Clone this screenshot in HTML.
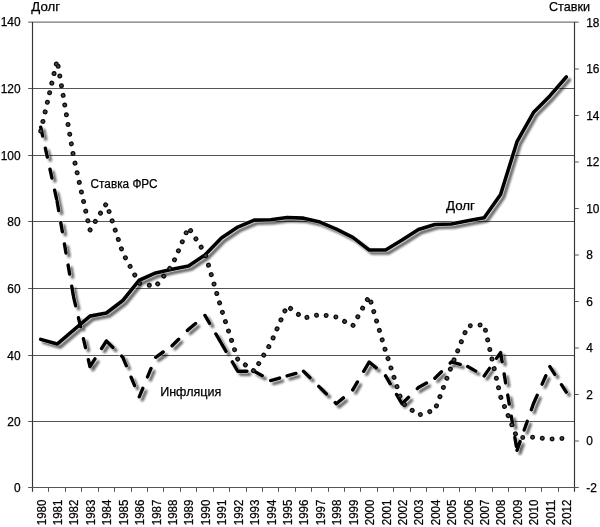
<!DOCTYPE html>
<html lang="ru"><head><meta charset="utf-8"><title>Долг и ставки</title>
<style>html,body{margin:0;padding:0;background:#fff}body{width:600px;height:527px;overflow:hidden}svg{display:block}text{font-family:"Liberation Sans",sans-serif;fill:#000;stroke:#000;stroke-width:0.25px}</style></head><body>
<svg width="600" height="527" viewBox="0 0 600 527">
<defs><filter id="sh" x="0" y="0" width="600" height="527" filterUnits="userSpaceOnUse" primitiveUnits="userSpaceOnUse"><feGaussianBlur in="SourceAlpha" stdDeviation="1.3"/><feOffset dx="2.5" dy="2.5"/></filter></defs>
<rect width="600" height="527" fill="#fff"/>
<g stroke="#555" stroke-width="1" fill="none"><line x1="28.20" y1="421.50" x2="574.50" y2="421.50"/><line x1="28.20" y1="355.50" x2="574.50" y2="355.50"/><line x1="28.20" y1="288.50" x2="574.50" y2="288.50"/><line x1="28.20" y1="221.50" x2="574.50" y2="221.50"/><line x1="28.20" y1="155.50" x2="574.50" y2="155.50"/><line x1="28.20" y1="88.50" x2="574.50" y2="88.50"/></g>
<line x1="28.20" y1="22.10" x2="578.80" y2="22.10" stroke="#777" stroke-width="1.3"/>
<g stroke="#555" stroke-width="1" fill="none"><line x1="32.50" y1="22.00" x2="32.50" y2="491.80" stroke="#333" stroke-width="1.15"/><line x1="574.50" y1="22.00" x2="574.50" y2="491.80" stroke="#333" stroke-width="1.15"/><line x1="28.20" y1="487.50" x2="574.50" y2="487.50"/><line x1="574.50" y1="441.00" x2="578.80" y2="441.00"/><line x1="574.50" y1="394.50" x2="578.80" y2="394.50"/><line x1="574.50" y1="348.00" x2="578.80" y2="348.00"/><line x1="574.50" y1="301.50" x2="578.80" y2="301.50"/><line x1="574.50" y1="255.00" x2="578.80" y2="255.00"/><line x1="574.50" y1="208.50" x2="578.80" y2="208.50"/><line x1="574.50" y1="162.00" x2="578.80" y2="162.00"/><line x1="574.50" y1="115.50" x2="578.80" y2="115.50"/><line x1="574.50" y1="69.00" x2="578.80" y2="69.00"/><line x1="574.50" y1="487.50" x2="578.80" y2="487.50"/><line x1="48.50" y1="487.50" x2="48.50" y2="491.80"/><line x1="65.50" y1="487.50" x2="65.50" y2="491.80"/><line x1="81.50" y1="487.50" x2="81.50" y2="491.80"/><line x1="98.50" y1="487.50" x2="98.50" y2="491.80"/><line x1="114.50" y1="487.50" x2="114.50" y2="491.80"/><line x1="131.50" y1="487.50" x2="131.50" y2="491.80"/><line x1="147.50" y1="487.50" x2="147.50" y2="491.80"/><line x1="163.50" y1="487.50" x2="163.50" y2="491.80"/><line x1="180.50" y1="487.50" x2="180.50" y2="491.80"/><line x1="196.50" y1="487.50" x2="196.50" y2="491.80"/><line x1="213.50" y1="487.50" x2="213.50" y2="491.80"/><line x1="229.50" y1="487.50" x2="229.50" y2="491.80"/><line x1="246.50" y1="487.50" x2="246.50" y2="491.80"/><line x1="262.50" y1="487.50" x2="262.50" y2="491.80"/><line x1="278.50" y1="487.50" x2="278.50" y2="491.80"/><line x1="295.50" y1="487.50" x2="295.50" y2="491.80"/><line x1="311.50" y1="487.50" x2="311.50" y2="491.80"/><line x1="328.50" y1="487.50" x2="328.50" y2="491.80"/><line x1="344.50" y1="487.50" x2="344.50" y2="491.80"/><line x1="360.50" y1="487.50" x2="360.50" y2="491.80"/><line x1="377.50" y1="487.50" x2="377.50" y2="491.80"/><line x1="393.50" y1="487.50" x2="393.50" y2="491.80"/><line x1="410.50" y1="487.50" x2="410.50" y2="491.80"/><line x1="426.50" y1="487.50" x2="426.50" y2="491.80"/><line x1="443.50" y1="487.50" x2="443.50" y2="491.80"/><line x1="459.50" y1="487.50" x2="459.50" y2="491.80"/><line x1="475.50" y1="487.50" x2="475.50" y2="491.80"/><line x1="492.50" y1="487.50" x2="492.50" y2="491.80"/><line x1="508.50" y1="487.50" x2="508.50" y2="491.80"/><line x1="525.50" y1="487.50" x2="525.50" y2="491.80"/><line x1="541.50" y1="487.50" x2="541.50" y2="491.80"/><line x1="558.50" y1="487.50" x2="558.50" y2="491.80"/></g>
<g><text x="20.6" y="491.80" text-anchor="end" font-size="11.90">0</text><text x="20.6" y="425.80" text-anchor="end" font-size="11.90">20</text><text x="20.6" y="359.80" text-anchor="end" font-size="11.90">40</text><text x="20.6" y="292.80" text-anchor="end" font-size="11.90">60</text><text x="20.6" y="225.80" text-anchor="end" font-size="11.90">80</text><text x="20.6" y="159.80" text-anchor="end" font-size="11.90">100</text><text x="20.6" y="92.80" text-anchor="end" font-size="11.90">120</text><text x="20.6" y="26.40" text-anchor="end" font-size="11.90">140</text><text x="586.2" y="491.80" font-size="11.90">-2</text><text x="586.2" y="445.30" font-size="11.90">0</text><text x="586.2" y="398.80" font-size="11.90">2</text><text x="586.2" y="352.30" font-size="11.90">4</text><text x="586.2" y="305.80" font-size="11.90">6</text><text x="586.2" y="259.30" font-size="11.90">8</text><text x="586.2" y="212.80" font-size="11.90">10</text><text x="586.2" y="166.30" font-size="11.90">12</text><text x="586.2" y="119.80" font-size="11.90">14</text><text x="586.2" y="73.30" font-size="11.90">16</text><text x="586.2" y="26.80" font-size="11.90">18</text><text transform="translate(45.61,525.2) rotate(-90)" font-size="11.90" textLength="25.6" lengthAdjust="spacingAndGlyphs">1980</text><text transform="translate(62.04,525.2) rotate(-90)" font-size="11.90" textLength="25.6" lengthAdjust="spacingAndGlyphs">1981</text><text transform="translate(78.46,525.2) rotate(-90)" font-size="11.90" textLength="25.6" lengthAdjust="spacingAndGlyphs">1982</text><text transform="translate(94.88,525.2) rotate(-90)" font-size="11.90" textLength="25.6" lengthAdjust="spacingAndGlyphs">1983</text><text transform="translate(111.31,525.2) rotate(-90)" font-size="11.90" textLength="25.6" lengthAdjust="spacingAndGlyphs">1984</text><text transform="translate(127.73,525.2) rotate(-90)" font-size="11.90" textLength="25.6" lengthAdjust="spacingAndGlyphs">1985</text><text transform="translate(144.16,525.2) rotate(-90)" font-size="11.90" textLength="25.6" lengthAdjust="spacingAndGlyphs">1986</text><text transform="translate(160.58,525.2) rotate(-90)" font-size="11.90" textLength="25.6" lengthAdjust="spacingAndGlyphs">1987</text><text transform="translate(177.01,525.2) rotate(-90)" font-size="11.90" textLength="25.6" lengthAdjust="spacingAndGlyphs">1988</text><text transform="translate(193.43,525.2) rotate(-90)" font-size="11.90" textLength="25.6" lengthAdjust="spacingAndGlyphs">1989</text><text transform="translate(209.85,525.2) rotate(-90)" font-size="11.90" textLength="25.6" lengthAdjust="spacingAndGlyphs">1990</text><text transform="translate(226.28,525.2) rotate(-90)" font-size="11.90" textLength="25.6" lengthAdjust="spacingAndGlyphs">1991</text><text transform="translate(242.70,525.2) rotate(-90)" font-size="11.90" textLength="25.6" lengthAdjust="spacingAndGlyphs">1992</text><text transform="translate(259.13,525.2) rotate(-90)" font-size="11.90" textLength="25.6" lengthAdjust="spacingAndGlyphs">1993</text><text transform="translate(275.55,525.2) rotate(-90)" font-size="11.90" textLength="25.6" lengthAdjust="spacingAndGlyphs">1994</text><text transform="translate(291.98,525.2) rotate(-90)" font-size="11.90" textLength="25.6" lengthAdjust="spacingAndGlyphs">1995</text><text transform="translate(308.40,525.2) rotate(-90)" font-size="11.90" textLength="25.6" lengthAdjust="spacingAndGlyphs">1996</text><text transform="translate(324.82,525.2) rotate(-90)" font-size="11.90" textLength="25.6" lengthAdjust="spacingAndGlyphs">1997</text><text transform="translate(341.25,525.2) rotate(-90)" font-size="11.90" textLength="25.6" lengthAdjust="spacingAndGlyphs">1998</text><text transform="translate(357.67,525.2) rotate(-90)" font-size="11.90" textLength="25.6" lengthAdjust="spacingAndGlyphs">1999</text><text transform="translate(374.10,525.2) rotate(-90)" font-size="11.90" textLength="25.6" lengthAdjust="spacingAndGlyphs">2000</text><text transform="translate(390.52,525.2) rotate(-90)" font-size="11.90" textLength="25.6" lengthAdjust="spacingAndGlyphs">2001</text><text transform="translate(406.95,525.2) rotate(-90)" font-size="11.90" textLength="25.6" lengthAdjust="spacingAndGlyphs">2002</text><text transform="translate(423.37,525.2) rotate(-90)" font-size="11.90" textLength="25.6" lengthAdjust="spacingAndGlyphs">2003</text><text transform="translate(439.79,525.2) rotate(-90)" font-size="11.90" textLength="25.6" lengthAdjust="spacingAndGlyphs">2004</text><text transform="translate(456.22,525.2) rotate(-90)" font-size="11.90" textLength="25.6" lengthAdjust="spacingAndGlyphs">2005</text><text transform="translate(472.64,525.2) rotate(-90)" font-size="11.90" textLength="25.6" lengthAdjust="spacingAndGlyphs">2006</text><text transform="translate(489.07,525.2) rotate(-90)" font-size="11.90" textLength="25.6" lengthAdjust="spacingAndGlyphs">2007</text><text transform="translate(505.49,525.2) rotate(-90)" font-size="11.90" textLength="25.6" lengthAdjust="spacingAndGlyphs">2008</text><text transform="translate(521.92,525.2) rotate(-90)" font-size="11.90" textLength="25.6" lengthAdjust="spacingAndGlyphs">2009</text><text transform="translate(538.34,525.2) rotate(-90)" font-size="11.90" textLength="25.6" lengthAdjust="spacingAndGlyphs">2010</text><text transform="translate(554.76,525.2) rotate(-90)" font-size="11.90" textLength="25.6" lengthAdjust="spacingAndGlyphs">2011</text><text transform="translate(571.19,525.2) rotate(-90)" font-size="11.90" textLength="25.6" lengthAdjust="spacingAndGlyphs">2012</text><text x="31.3" y="11.4" font-size="13" textLength="28.7" lengthAdjust="spacingAndGlyphs">Долг</text><text x="549" y="11.4" font-size="13" textLength="41" lengthAdjust="spacingAndGlyphs">Ставки</text><text x="90.6" y="188" font-size="12" textLength="67" lengthAdjust="spacingAndGlyphs">Ставка ФРС</text><text x="446" y="210" font-size="12.5" textLength="29" lengthAdjust="spacingAndGlyphs">Долг</text><text x="160.2" y="396.1" font-size="12" textLength="61" lengthAdjust="spacingAndGlyphs">Инфляция</text></g>
<g fill="none" stroke="#000" filter="url(#sh)" opacity="0.60">
<polyline points="40.71,339.36 57.14,344.01 73.56,330.06 89.98,316.11 106.41,312.96 122.83,300.50 139.26,280.24 155.68,272.94 172.11,269.28 188.53,265.96 204.95,255.00 221.38,238.06 237.80,227.10 254.23,220.12 270.65,219.79 287.08,217.47 303.50,218.13 319.92,222.12 336.35,229.09 352.77,237.40 369.20,250.02 385.62,250.02 402.05,240.05 418.47,229.42 434.89,224.44 451.32,223.94 467.74,220.79 484.17,217.80 500.59,194.55 517.02,141.74 533.44,112.51 549.86,95.90 566.29,76.97" stroke-width="3.60" stroke-linejoin="round" stroke-linecap="round"/>
<path d="M40.71 127.12L57.14 201.52M57.14 201.52L73.56 296.85M73.56 296.85L89.98 366.60M89.98 366.60L106.41 341.02M106.41 341.02L122.83 357.30M122.83 357.30L139.26 396.82M139.26 396.82L155.68 357.30M155.68 357.30L172.11 345.68M172.11 345.68L188.53 329.40M188.53 329.40L204.95 315.45M204.95 315.45L221.38 343.35M221.38 343.35L237.80 371.25M237.80 371.25L254.23 371.25M254.23 371.25L270.65 380.55M270.65 380.55L287.08 375.90M287.08 375.90L303.50 371.25M303.50 371.25L319.92 387.52M319.92 387.52L336.35 403.80M336.35 403.80L352.77 389.85M352.77 389.85L369.20 361.95M369.20 361.95L385.62 375.90M385.62 375.90L402.05 403.80M402.05 403.80L418.47 387.52M418.47 387.52L434.89 378.23M434.89 378.23L451.32 361.95M451.32 361.95L467.74 366.60M467.74 366.60L484.17 375.90M484.17 375.90L500.59 352.65M500.59 352.65L517.02 450.30M517.02 450.30L533.44 403.80M533.44 403.80L549.86 366.60M549.86 366.60L566.29 392.18" stroke-width="3.40" stroke-linecap="round" stroke-dasharray="9.2 12.3"/>
</g>
<g fill="none" stroke="#fff" stroke-opacity="0.70">
<polyline points="40.71,339.36 57.14,344.01 73.56,330.06 89.98,316.11 106.41,312.96 122.83,300.50 139.26,280.24 155.68,272.94 172.11,269.28 188.53,265.96 204.95,255.00 221.38,238.06 237.80,227.10 254.23,220.12 270.65,219.79 287.08,217.47 303.50,218.13 319.92,222.12 336.35,229.09 352.77,237.40 369.20,250.02 385.62,250.02 402.05,240.05 418.47,229.42 434.89,224.44 451.32,223.94 467.74,220.79 484.17,217.80 500.59,194.55 517.02,141.74 533.44,112.51 549.86,95.90 566.29,76.97" stroke-width="4.60" stroke-linejoin="round" stroke-linecap="round"/>
<path d="M40.71 127.12L57.14 201.52M57.14 201.52L73.56 296.85M73.56 296.85L89.98 366.60M89.98 366.60L106.41 341.02M106.41 341.02L122.83 357.30M122.83 357.30L139.26 396.82M139.26 396.82L155.68 357.30M155.68 357.30L172.11 345.68M172.11 345.68L188.53 329.40M188.53 329.40L204.95 315.45M204.95 315.45L221.38 343.35M221.38 343.35L237.80 371.25M237.80 371.25L254.23 371.25M254.23 371.25L270.65 380.55M270.65 380.55L287.08 375.90M287.08 375.90L303.50 371.25M303.50 371.25L319.92 387.52M319.92 387.52L336.35 403.80M336.35 403.80L352.77 389.85M352.77 389.85L369.20 361.95M369.20 361.95L385.62 375.90M385.62 375.90L402.05 403.80M402.05 403.80L418.47 387.52M418.47 387.52L434.89 378.23M434.89 378.23L451.32 361.95M451.32 361.95L467.74 366.60M467.74 366.60L484.17 375.90M484.17 375.90L500.59 352.65M500.59 352.65L517.02 450.30M517.02 450.30L533.44 403.80M533.44 403.80L549.86 366.60M549.86 366.60L566.29 392.18" stroke-width="4.40" stroke-linecap="round" stroke-dasharray="9.2 12.3"/>
</g>
<g fill="none" stroke="#000">
<polyline points="40.71,339.36 57.14,344.01 73.56,330.06 89.98,316.11 106.41,312.96 122.83,300.50 139.26,280.24 155.68,272.94 172.11,269.28 188.53,265.96 204.95,255.00 221.38,238.06 237.80,227.10 254.23,220.12 270.65,219.79 287.08,217.47 303.50,218.13 319.92,222.12 336.35,229.09 352.77,237.40 369.20,250.02 385.62,250.02 402.05,240.05 418.47,229.42 434.89,224.44 451.32,223.94 467.74,220.79 484.17,217.80 500.59,194.55 517.02,141.74 533.44,112.51 549.86,95.90 566.29,76.97" stroke-width="3.60" stroke-linejoin="round" stroke-linecap="round"/>
<path d="M40.71 127.12L57.14 201.52M57.14 201.52L73.56 296.85M73.56 296.85L89.98 366.60M89.98 366.60L106.41 341.02M106.41 341.02L122.83 357.30M122.83 357.30L139.26 396.82M139.26 396.82L155.68 357.30M155.68 357.30L172.11 345.68M172.11 345.68L188.53 329.40M188.53 329.40L204.95 315.45M204.95 315.45L221.38 343.35M221.38 343.35L237.80 371.25M237.80 371.25L254.23 371.25M254.23 371.25L270.65 380.55M270.65 380.55L287.08 375.90M287.08 375.90L303.50 371.25M303.50 371.25L319.92 387.52M319.92 387.52L336.35 403.80M336.35 403.80L352.77 389.85M352.77 389.85L369.20 361.95M369.20 361.95L385.62 375.90M385.62 375.90L402.05 403.80M402.05 403.80L418.47 387.52M418.47 387.52L434.89 378.23M434.89 378.23L451.32 361.95M451.32 361.95L467.74 366.60M467.74 366.60L484.17 375.90M484.17 375.90L500.59 352.65M500.59 352.65L517.02 450.30M517.02 450.30L533.44 403.80M533.44 403.80L549.86 366.60M549.86 366.60L566.29 392.18" stroke-width="3.40" stroke-linecap="round" stroke-dasharray="9.2 12.3"/>
</g>
<g fill="none" stroke-linejoin="round" stroke-linecap="round" stroke-dasharray="0.01 9.820" transform="translate(0 0.4)">
<polyline points="40.71,130.61 57.14,59.93 73.56,156.42 89.98,229.66 106.41,203.15 122.83,252.68 139.26,282.90 155.68,286.15 172.11,265.00 188.53,226.87 204.95,252.68 221.38,308.71 237.80,359.16 254.23,370.78 270.65,343.12 287.08,305.45 303.50,317.77 319.92,314.06 336.35,316.61 352.77,325.45 369.20,295.92 385.62,350.79 402.05,402.17 418.47,414.73 434.89,409.61 451.32,366.13 467.74,325.45 484.17,324.28 500.59,396.36 517.02,437.28 533.44,436.81 549.86,438.68 566.29,437.75" stroke="#0d0d0d" stroke-width="5"/>
<polyline points="40.71,130.61 57.14,59.93 73.56,156.42 89.98,229.66 106.41,203.15 122.83,252.68 139.26,282.90 155.68,286.15 172.11,265.00 188.53,226.87 204.95,252.68 221.38,308.71 237.80,359.16 254.23,370.78 270.65,343.12 287.08,305.45 303.50,317.77 319.92,314.06 336.35,316.61 352.77,325.45 369.20,295.92 385.62,350.79 402.05,402.17 418.47,414.73 434.89,409.61 451.32,366.13 467.74,325.45 484.17,324.28 500.59,396.36 517.02,437.28 533.44,436.81 549.86,438.68 566.29,437.75" stroke="#4a4a4a" stroke-width="2.3"/>
</g>
</svg></body></html>
